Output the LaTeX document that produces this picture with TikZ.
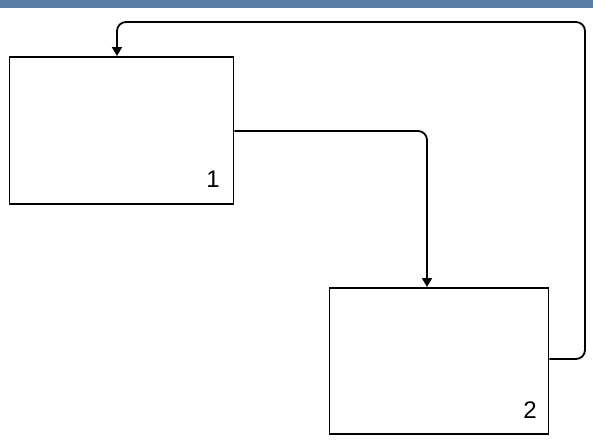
\documentclass[tikz,border=0pt]{standalone}
\usepackage{fontspec}
\setmainfont{Liberation Sans}
\usetikzlibrary{arrows.meta}
\definecolor{band}{HTML}{5B7CA6}
\definecolor{bg}{HTML}{FFFFFF}
\tikzset{
  box/.style={draw=black, line width=1.8pt, fill=white, inner sep=0pt, anchor=north west},
  conn/.style={draw=black, line width=1.8pt, rounded corners=9pt, -{Triangle[length=9pt,width=10pt]}},
  lbl/.style={font=\fontsize{24}{24}\selectfont, anchor=base}
}
\begin{document}
\begin{tikzpicture}[x=1pt,y=-1pt]
\fill[bg] (0,0) rectangle (593,439);
\useasboundingbox (0,0) rectangle (593,439);
\fill[band] (0,0) rectangle (593,8);
\node[box, minimum width=224pt, minimum height=147pt] (b1) at (8.5,56) {};
\node[box, minimum width=219pt, minimum height=146pt] (b2) at (328.5,287) {};
\node[lbl] (l1) at (213,187) {1};
\node[lbl] (l2) at (530,418) {2};
\coordinate (c1) at (427,131);
\coordinate (c2a) at (585,359);
\coordinate (c2b) at (585,22);
\coordinate (c2c) at (117,22);
\draw[conn] (b1.east |- c1) -- (c1) -- (c1 |- b2.north);
\draw[conn] (b2.east |- c2a) -- (c2a) -- (c2b) -- (c2c) -- (c2c |- b1.north);
\end{tikzpicture}
\end{document}
